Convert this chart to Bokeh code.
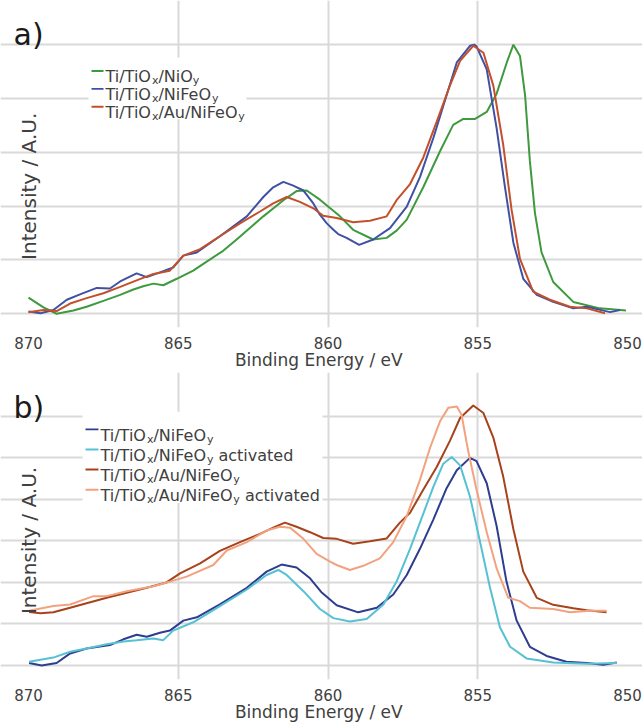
import math
from bokeh.plotting import figure
from bokeh.models import Label, BoxAnnotation, Range1d, FixedTicker
from bokeh.layouts import column
from bokeh.embed import file_html
from bokeh.resources import INLINE

# ---------------- data (binding energy eV, intensity a.u.) ----------------
a_nio_x = [870.0, 869.5, 869.06, 868.5, 868.06, 867.5, 866.94, 866.5, 866.17, 865.83, 865.5, 865.05,
           864.5, 864.05, 863.5, 863.05, 862.6, 862.16, 861.8, 861.49, 861.05, 860.71, 860.27, 859.6,
           859.16, 858.49, 858.04, 857.7, 857.37, 856.82, 856.26, 855.82, 855.48, 855.09, 854.7, 854.37,
           854.03, 853.81, 853.59, 853.42, 853.26, 853.09, 852.87, 852.48, 851.81, 850.92, 850.05]
a_nio_y = [0.30, 0.12, 0.0, 0.06, 0.13, 0.24, 0.35, 0.45, 0.51, 0.56, 0.53, 0.65,
           0.80, 0.97, 1.17, 1.38, 1.60, 1.81, 1.97, 2.11, 2.28, 2.29, 2.12, 1.81,
           1.56, 1.38, 1.41, 1.55, 1.75, 2.35, 3.02, 3.51, 3.62, 3.62, 3.75, 4.09,
           4.67, 5.0, 4.79, 4.06, 2.84, 1.87, 1.14, 0.59, 0.22, 0.10, 0.06]

a_nife_x = [870.0, 869.6, 869.17, 868.72, 868.28, 867.72, 867.28, 866.94, 866.39, 866.05, 865.61, 865.17,
            864.83, 864.38, 863.61, 862.71, 862.16, 861.83, 861.49, 861.16, 860.82, 860.49, 860.27, 860.04,
            859.82, 859.66, 859.38, 858.96, 858.49, 857.93, 857.37, 856.93, 856.48, 856.04, 855.7, 855.26,
            855.12, 855.04, 854.7, 854.37, 854.09, 853.81, 853.48, 853.03, 852.48, 851.81, 851.36, 850.58, 850.25]
a_nife_y = [0.04, 0.01, 0.07, 0.26, 0.36, 0.48, 0.47, 0.60, 0.75, 0.68, 0.77, 0.86,
            1.08, 1.14, 1.44, 1.81, 2.17, 2.35, 2.45, 2.38, 2.29, 2.05, 1.84, 1.68,
            1.56, 1.48, 1.41, 1.28, 1.38, 1.59, 1.99, 2.54, 3.27, 4.06, 4.67, 4.98,
            5.0, 4.97, 4.54, 3.45, 2.35, 1.32, 0.65, 0.35, 0.22, 0.10, 0.13, 0.03, 0.07]

a_au_x = [870.0, 869.5, 869.06, 868.61, 868.06, 867.5, 866.94, 866.39, 865.83, 865.28, 864.83, 864.27,
          863.61, 862.94, 862.27, 861.83, 861.38, 860.94, 860.49, 860.16, 859.71, 859.16, 858.6, 858.04,
          857.71, 857.26, 856.82, 856.37, 855.93, 855.59, 855.15, 854.81, 854.48, 854.15, 853.87, 853.59,
          853.15, 852.59, 851.92, 851.36, 850.75]
a_au_y = [0.03, 0.07, 0.05, 0.19, 0.29, 0.38, 0.50, 0.62, 0.74, 0.80, 1.08, 1.20,
          1.44, 1.68, 1.90, 2.05, 2.17, 2.08, 1.96, 1.82, 1.78, 1.70, 1.73, 1.81,
          2.11, 2.41, 2.90, 3.57, 4.24, 4.70, 4.98, 4.85, 4.24, 3.14, 1.93, 1.02,
          0.41, 0.26, 0.13, 0.10, 0.01]

b_nife_x = [869.98, 869.56, 869.06, 868.61, 868.06, 867.28, 866.83, 866.39, 866.05, 865.61, 865.28, 864.83,
            864.38, 863.61, 862.71, 862.05, 861.55, 861.05, 860.6, 860.2, 859.71, 858.99, 858.37, 857.82,
            857.37, 856.93, 856.48, 856.04, 855.7, 855.26, 855.04, 854.7, 854.37, 854.04, 853.7, 853.26,
            852.7, 852.04, 851.36, 850.81, 850.36]
b_nife_y = [0.06, 0.0, 0.06, 0.29, 0.41, 0.49, 0.63, 0.74, 0.69, 0.79, 0.84, 1.08,
            1.16, 1.47, 1.87, 2.26, 2.43, 2.36, 2.10, 1.75, 1.45, 1.28, 1.39, 1.71,
            2.18, 2.81, 3.52, 4.27, 4.70, 5.0, 4.92, 4.39, 3.36, 2.02, 1.08, 0.45,
            0.23, 0.09, 0.06, 0.02, 0.07]

b_nife_act_x = [869.98, 869.17, 868.61, 868.06, 867.39, 866.83, 866.39, 865.83, 865.5, 865.17, 864.5, 863.61,
                862.71, 862.05, 861.66, 861.38, 860.82, 860.27, 859.82, 859.27, 858.71, 858.15, 857.71, 857.26,
                856.93, 856.48, 856.15, 855.87, 855.59, 855.26, 854.92, 854.59, 854.26, 853.92, 853.37, 852.48,
                851.36, 850.36]
b_nife_act_y = [0.09, 0.19, 0.33, 0.41, 0.51, 0.58, 0.61, 0.65, 0.61, 0.84, 1.04, 1.43,
                1.83, 2.18, 2.30, 2.18, 1.79, 1.36, 1.14, 1.06, 1.12, 1.47, 2.02, 2.81,
                3.44, 4.31, 4.86, 5.02, 4.82, 4.07, 2.97, 1.87, 0.92, 0.45, 0.17, 0.07,
                0.04, 0.06]

b_au_x = [869.98, 869.6, 869.17, 868.61, 868.06, 867.39, 866.72, 866.05, 865.39, 864.94, 864.27, 863.61,
          862.94, 862.27, 861.83, 861.44, 861.05, 860.6, 860.16, 859.71, 859.16, 858.6, 858.04, 857.6,
          857.26, 856.82, 856.37, 855.93, 855.59, 855.15, 854.81, 854.48, 854.15, 853.81, 853.48, 853.03,
          852.48, 851.81, 851.36, 850.7]
b_au_y = [1.29, 1.26, 1.28, 1.39, 1.50, 1.63, 1.75, 1.87, 2.0, 2.22, 2.46, 2.76,
          2.97, 3.17, 3.32, 3.44, 3.34, 3.21, 3.07, 3.05, 2.93, 2.99, 3.06, 3.44,
          3.68, 4.23, 4.78, 5.41, 5.96, 6.26, 6.08, 5.49, 4.55, 3.28, 2.26, 1.63,
          1.46, 1.38, 1.33, 1.28]

b_au_act_x = [869.98, 869.17, 868.61, 867.83, 867.39, 866.72, 865.83, 865.28, 864.72, 863.83, 863.38, 862.71,
              862.05, 861.6, 861.27, 860.82, 860.38, 859.93, 859.71, 859.27, 858.82, 858.27, 857.82, 857.37,
              856.93, 856.59, 856.26, 855.98, 855.7, 855.54, 855.32, 855.04, 854.7, 854.37, 853.98, 853.59,
              853.26, 852.48, 851.92, 851.26, 850.7]
b_au_act_y = [1.32, 1.43, 1.47, 1.67, 1.67, 1.79, 1.91, 2.02, 2.14, 2.42, 2.77, 2.97,
              3.25, 3.34, 3.32, 3.05, 2.69, 2.50, 2.42, 2.30, 2.40, 2.58, 2.97, 3.60,
              4.47, 5.25, 5.88, 6.21, 6.24, 6.04, 5.17, 4.23, 3.21, 2.34, 1.63, 1.55,
              1.39, 1.36, 1.28, 1.32, 1.32]

x_ticks = [870, 865, 860, 855, 850]
x_grid = [865, 860, 855]
a_grid = [0, 1, 2, 3, 4, 5]
b_grid = [0, 1, 2, 3, 4, 5, 6]

x_title = "Binding Energy /  eV"
y_title = "Intensity /  A.U."

# legend entries: list of (text, is_subscript)
a_legend = [
    ([("Ti/TiO", 0), ("x", 1), ("/NiO", 0), ("y", 1)], "#3f9a3f"),
    ([("Ti/TiO", 0), ("x", 1), ("/NiFeO", 0), ("y", 1)], "#4051a3"),
    ([("Ti/TiO", 0), ("x", 1), ("/Au/NiFeO", 0), ("y", 1)], "#c2502a"),
]
b_legend = [
    ([("Ti/TiO", 0), ("x", 1), ("/NiFeO", 0), ("y", 1)], "#2e3d8f"),
    ([("Ti/TiO", 0), ("x", 1), ("/NiFeO", 0), ("y", 1), (" activated", 0)], "#55c1d3"),
    ([("Ti/TiO", 0), ("x", 1), ("/Au/NiFeO", 0), ("y", 1)], "#a8421c"),
    ([("Ti/TiO", 0), ("x", 1), ("/Au/NiFeO", 0), ("y", 1), (" activated", 0)], "#f2a27f"),
]

# ---------------- geometry (canvas pixels) ----------------
W = 642
X870_PX = 28.0          # canvas x of 870 eV
XPX = 29.95             # pixels per eV
FONT = "DejaVu Sans"
TXT = "#404040"
GRID = "#d9d9d9"

# DejaVu Sans advance widths (em)
CW = {'T': 0.611, 'i': 0.278, '/': 0.337, 'O': 0.787, 'N': 0.748, 'F': 0.575, 'e': 0.615,
      'A': 0.684, 'u': 0.634, ' ': 0.318, 'a': 0.613, 'c': 0.550, 't': 0.392, 'v': 0.592,
      'd': 0.635, 'x': 0.592, 'y': 0.592}


def ex(px):
    return 870 - (px - X870_PX) / XPX


def make_panel(height, top_page, frame_bottom_page, grid_top_page, zero_page, unit_px, grid_ticks):
    # frame covers the whole canvas width and reaches the canvas top
    y1 = (zero_page - top_page) / unit_px
    y0 = (zero_page - frame_bottom_page) / unit_px
    gtop = (zero_page - grid_top_page) / unit_px
    p = figure(width=W, height=height, x_range=Range1d(ex(0), ex(W)), y_range=Range1d(y0, y1),
               output_backend="svg", toolbar_location=None, y_axis_location=None, title=None,
               min_border_left=0, min_border_right=0, min_border_top=0,
               min_border_bottom=top_page + height - frame_bottom_page)
    p.outline_line_color = None
    p.background_fill_color = "white"
    p.border_fill_color = "white"
    ax = p.xaxis[0]
    ax.ticker = FixedTicker(ticks=x_ticks)
    ax.axis_line_color = None
    ax.major_tick_line_color = None
    ax.minor_tick_line_color = None
    ax.major_label_standoff = 3
    ax.major_label_text_font = FONT
    ax.major_label_text_font_size = "15px"
    ax.major_label_text_color = TXT
    ax.axis_label = x_title
    ax.axis_label_standoff = -2
    ax.axis_label_text_font = FONT
    ax.axis_label_text_font_size = "17px"
    ax.axis_label_text_font_style = "normal"
    ax.axis_label_text_color = TXT
    p.xgrid.ticker = FixedTicker(ticks=x_grid)
    p.xgrid.bounds = (y0, gtop)
    p.ygrid.ticker = FixedTicker(ticks=grid_ticks)
    p.ygrid.bounds = (870, 850)
    for g in (p.xgrid, p.ygrid):
        g.grid_line_color = GRID
        g.grid_line_width = 2

    def yv(py):
        return (zero_page - py) / unit_px
    return p, yv


def add_legend(p, yv, rows, x_swatch, x_text, row_pages, box):
    bl, br, bt, bb = box
    p.add_layout(BoxAnnotation(left=ex(bl), right=ex(br), top=yv(bt), bottom=yv(bb),
                               fill_color="white", fill_alpha=1.0, line_color=None))
    for (parts, color), py in zip(rows, row_pages):
        p.add_layout(BoxAnnotation(left=ex(x_swatch[0]), right=ex(x_swatch[1]),
                                   top=yv(py - 1), bottom=yv(py + 1),
                                   fill_color=color, fill_alpha=1.0, line_color=None))
        base = py + 5.8
        x = x_text
        for text, sub in parts:
            size = 11 if sub else 16
            stripped = text.lstrip(" ")
            x += (len(text) - len(stripped)) * CW[' '] * size
            yb = base + (4 if sub else 0)
            p.add_layout(Label(x=ex(x), y=yv(yb), text=stripped, text_font=FONT,
                               text_font_size=f"{size}px", text_color=TXT,
                               text_baseline="alphabetic", text_align="left"))
            x += sum(CW[c] for c in stripped) * size


def add_texts(p, yv, tag, tag_base, ylab_center):
    p.add_layout(Label(x=ex(13), y=yv(tag_base), text=tag, text_font=FONT, text_font_size="30px",
                       text_color="#1a1a1a", text_baseline="alphabetic", text_align="left"))
    p.add_layout(Label(x=ex(X870_PX), y=yv(ylab_center), text=y_title, angle=math.pi / 2,
                       text_font=FONT, text_font_size="20px", text_color=TXT,
                       text_baseline="alphabetic", text_align="center"))


# ---------------- panel a (canvas rows 0..372) ----------------
pa, ya = make_panel(372, 0, 333, 30, 319.0, 54.8, a_grid)
pa.line(a_nio_x, a_nio_y, line_color=a_legend[0][1], line_width=2)
pa.line(a_nife_x, a_nife_y, line_color=a_legend[1][1], line_width=2)
pa.line(a_au_x, a_au_y, line_color=a_legend[2][1], line_width=2)
add_legend(pa, ya, a_legend, (91, 103), 105, [71.7, 90.0, 108.3], (88, 246, 58, 121))
add_texts(pa, ya, "a)", 35, 186)

# ---------------- panel b (canvas rows 372..724) ----------------
pb, yb_ = make_panel(352, 372, 685, 387, 670.7, 42.33, b_grid)
pb.line(b_nife_x, b_nife_y, line_color=b_legend[0][1], line_width=2)
pb.line(b_nife_act_x, b_nife_act_y, line_color=b_legend[1][1], line_width=2)
pb.line(b_au_x, b_au_y, line_color=b_legend[2][1], line_width=2)
pb.line(b_au_act_x, b_au_act_y, line_color=b_legend[3][1], line_width=2)
add_legend(pb, yb_, b_legend, (85, 98), 100, [430.0, 450.5, 471.0, 491.5], (82, 322, 412, 505))
add_texts(pb, yb_, "b)", 408, 540)

layout = column(pa, pb, spacing=0)
open("out.html", "w").write(file_html(layout, INLINE))
